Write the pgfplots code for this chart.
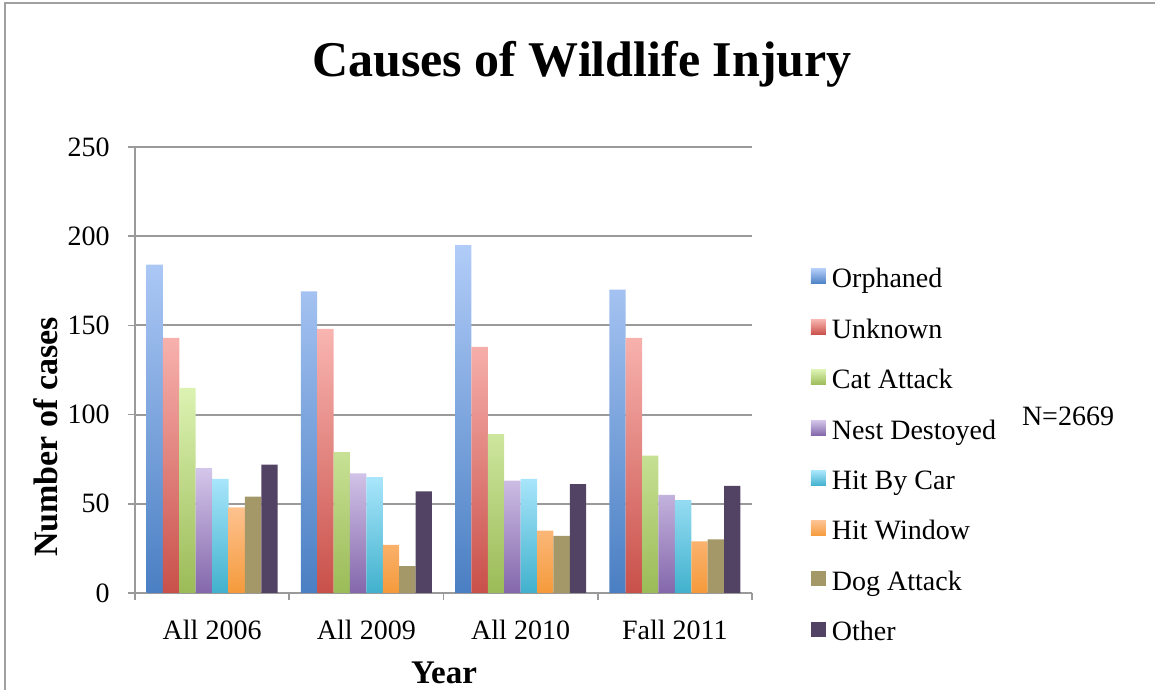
\documentclass[border=0pt]{standalone}
\usepackage{fontspec}
\setmainfont{Liberation Serif}
\usepackage{pgfplots}
\pgfplotsset{compat=1.18}

\definecolor{gridgray}{HTML}{9A9A9A}
\definecolor{framegray}{HTML}{A0A0A0}
\definecolor{orphT}{HTML}{B1CCF8}\definecolor{orphB}{HTML}{4A7FC3}
\definecolor{unkT}{HTML}{F9B5B1}\definecolor{unkB}{HTML}{C9504A}
\definecolor{catT}{HTML}{DCF2B2}\definecolor{catB}{HTML}{9BBB57}
\definecolor{nestT}{HTML}{D4C6EA}\definecolor{nestB}{HTML}{8467AB}
\definecolor{carT}{HTML}{A9E6FB}\definecolor{carB}{HTML}{41B1CD}
\definecolor{winT}{HTML}{FDC28F}\definecolor{winB}{HTML}{F59A3B}
\definecolor{dogC}{HTML}{A59868}
\definecolor{otherC}{HTML}{524364}

\pgfplotsset{
  sqlegend/.style={legend image code/.code={\fill[##1,draw=none] (0pt,2pt) rectangle (7.5pt,9.5pt);}},
}

% counts per cause, columns: All 2006, All 2009, All 2010, Fall 2011
\pgfplotstableread{
x orphaned unknown cat nest car window dog other
0 184 143 115 70 64 48 54 72
1 169 148 79 67 65 27 15 57
2 195 138 89 63 64 35 32 61
3 170 143 77 55 52 29 30 60
}\injury

\newcommand{\tickfont}{\fontsize{14}{16}\selectfont}

\begin{document}
\begin{tikzpicture}
\useasboundingbox (0,0) rectangle (577.5pt,345pt);
\draw[line width=1pt, color=framegray] (2.5pt,0) -- (2.5pt,343.5pt) -- (577.5pt,343.5pt);
\begin{axis}[
  at={(67.5pt,48.5pt)}, anchor=south west,
  scale only axis, width=308.5pt, height=223pt,
  ybar=0pt, bar width=0.1063,
  xmin=-0.5, xmax=3.5, ymin=0, ymax=250,
  xtick={-0.5,0.5,1.5,2.5,3.5},
  x tick label as interval,
  xticklabels={All 2006,All 2009,All 2010,Fall 2011},
  ytick={0,50,...,250},
  ymajorgrids, grid style={gridgray, line width=1pt},
  axis x line*=bottom, axis y line*=left,
  axis line style={gridgray, line width=1pt, -},
  tick align=outside, major tick length=3.5pt,
  tick style={gridgray, line width=0.8pt},
  /pgf/number format/assume math mode=true,
  tick label style={font=\tickfont},
  xticklabel style={anchor=base, yshift=-19.5pt, inner sep=0pt},
  yticklabel style={anchor=east, xshift=-9pt, inner sep=0pt},
  legend cell align=left,
  legend style={at={(1.0956,0.7287)}, anchor=north west, draw=none, fill=none,
    inner sep=0pt, outer sep=0pt, row sep=12.2pt, column sep=3pt,
    font=\tickfont,
    nodes={inner sep=0pt, text height=10pt, text depth=3pt},
    cells={anchor=base west}},
]
\addplot[draw=none, top color=orphT, bottom color=orphB, sqlegend] table[x=x, y=orphaned] {\injury};
\addplot[draw=none, top color=unkT, bottom color=unkB, sqlegend] table[x=x, y=unknown] {\injury};
\addplot[draw=none, top color=catT, bottom color=catB, sqlegend] table[x=x, y=cat] {\injury};
\addplot[draw=none, top color=nestT, bottom color=nestB, sqlegend] table[x=x, y=nest] {\injury};
\addplot[draw=none, top color=carT, bottom color=carB, sqlegend] table[x=x, y=car] {\injury};
\addplot[draw=none, top color=winT, bottom color=winB, sqlegend] table[x=x, y=window] {\injury};
\addplot[draw=none, fill=dogC, sqlegend] table[x=x, y=dog] {\injury};
\addplot[draw=none, fill=otherC, sqlegend] table[x=x, y=other] {\injury};
\legend{Orphaned, Unknown, Cat Attack, Nest Destoyed, Hit By Car, Hit Window, Dog Attack, Other}
\end{axis}
\node[anchor=base, font=\fontsize{25}{30}\selectfont\bfseries] at (291pt,306.5pt) {Causes of Wildlife Injury};
\node[anchor=base, rotate=90, font=\fontsize{17}{20}\selectfont\bfseries] at (28.5pt,126.5pt) {Number of cases};
\node[anchor=base, font=\fontsize{16.5}{20}\selectfont\bfseries] at (222pt,3.5pt) {Year};
\node[anchor=base, font=\tickfont] at (534pt,132pt) {N=2669};
\end{tikzpicture}
\end{document}
